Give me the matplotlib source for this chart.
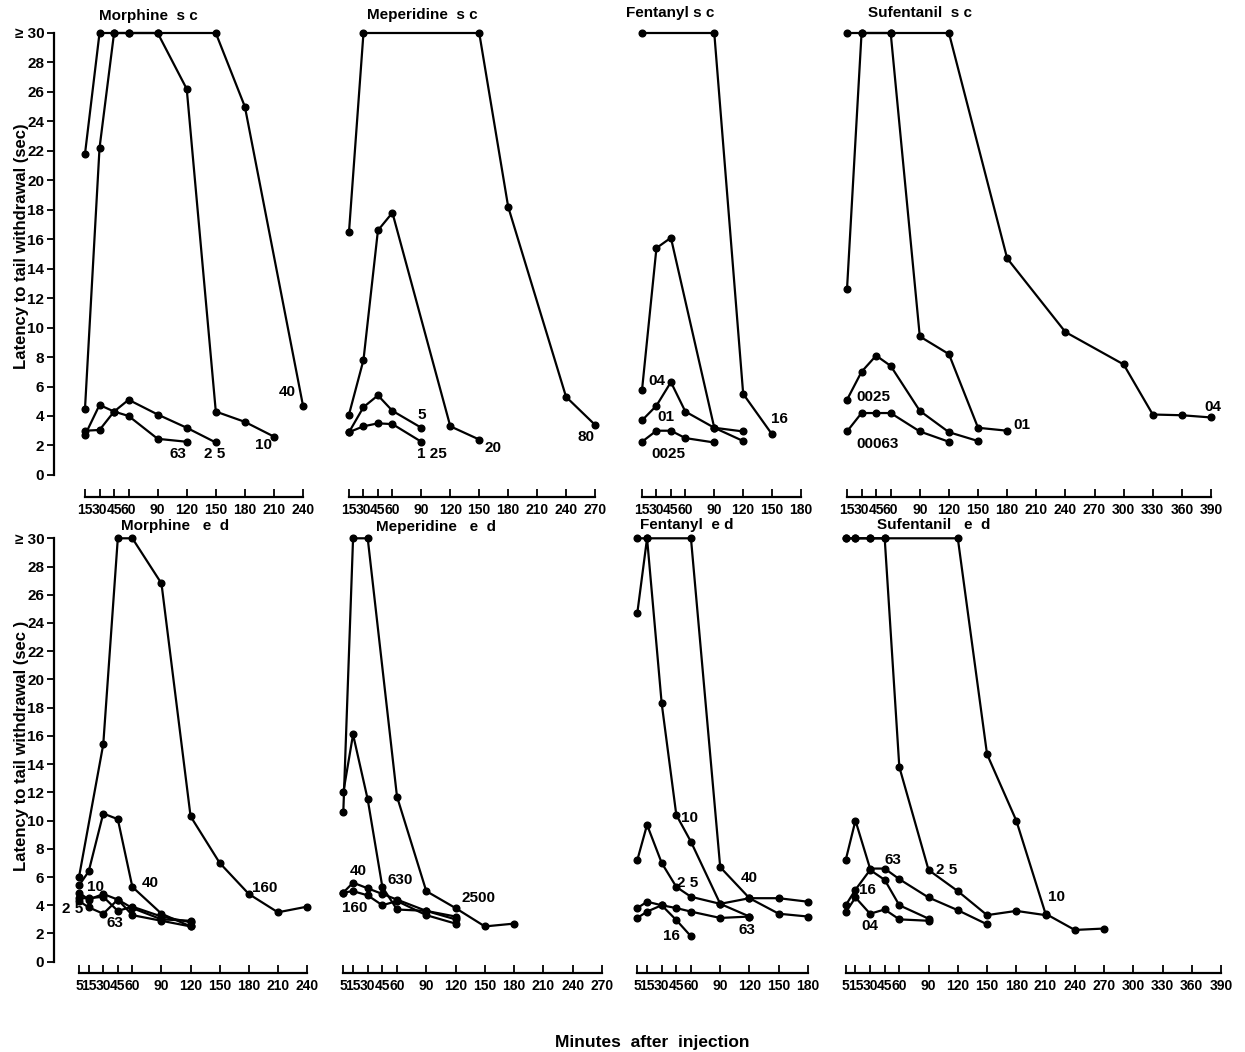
import matplotlib
matplotlib.use("Agg")
import matplotlib.pyplot as plt

plt.rcParams['font.family'] = ['Liberation Sans', 'DejaVu Sans']

# ---------------- data (minutes, latency in sec; 30 = cut-off) ----------------
# Morphine s.c.
ms40_t = [15, 30, 45, 60, 90, 150, 180, 240]
ms40_y = [21.8, 30, 30, 30, 30, 30, 25.0, 4.7]
ms10_t = [15, 30, 45, 60, 90, 120, 150, 180, 210]
ms10_y = [4.5, 22.2, 30, 30, 30, 26.2, 4.3, 3.6, 2.6]
ms25_t = [15, 30, 45, 60, 90, 120, 150]
ms25_y = [3.0, 3.05, 4.3, 5.1, 4.1, 3.2, 2.2]
ms63_t = [15, 30, 45, 60, 90, 120]
ms63_y = [2.7, 4.75, 4.3, 4.0, 2.45, 2.25]

# Meperidine s.c.
mps80_t = [15, 30, 150, 180, 240, 270]
mps80_y = [16.5, 30, 30, 18.2, 5.3, 3.4]
mps20_t = [15, 30, 45, 60, 120, 150]
mps20_y = [4.1, 7.8, 16.6, 17.8, 3.3, 2.4]
mps5_t = [15, 30, 45, 60, 90]
mps5_y = [2.9, 4.6, 5.4, 4.35, 3.2]
mps125_t = [15, 30, 45, 60, 90]
mps125_y = [2.9, 3.3, 3.5, 3.45, 2.25]

# Fentanyl s.c.
fs16_t = [15, 90, 120, 150]
fs16_y = [30, 30, 5.5, 2.75]
fs04_t = [15, 30, 45, 90, 120]
fs04_y = [5.75, 15.4, 16.1, 3.2, 2.3]
fs01_t = [15, 30, 45, 60, 90, 120]
fs01_y = [3.7, 4.7, 6.3, 4.3, 3.2, 2.95]
fs0025_t = [15, 30, 45, 60, 90]
fs0025_y = [2.25, 3.0, 3.0, 2.5, 2.2]

# Sufentanil s.c.
ss04_t = [15, 30, 60, 120, 180, 240, 300, 330, 360, 390]
ss04_y = [30, 30, 30, 30, 14.7, 9.7, 7.5, 4.1, 4.05, 3.9]
ss01_t = [15, 30, 60, 90, 120, 150, 180]
ss01_y = [12.6, 30, 30, 9.4, 8.2, 3.2, 3.0]
ss0025_t = [15, 30, 45, 60, 90, 120, 150]
ss0025_y = [5.1, 7.0, 8.1, 7.4, 4.35, 2.9, 2.3]
ss00063_t = [15, 30, 45, 60, 90, 120]
ss00063_y = [2.95, 4.2, 4.2, 4.2, 2.95, 2.25]

# Morphine e.d.
me160_t = [5, 30, 45, 60, 90, 120, 150, 180, 210, 240]
me160_y = [6.0, 15.4, 30, 30, 26.8, 10.3, 7.0, 4.8, 3.5, 3.9]
me40_t = [5, 15, 30, 45, 60, 90, 120]
me40_y = [5.4, 6.4, 10.5, 10.1, 5.3, 3.4, 2.5]
me10_t = [5, 15, 30, 45, 60, 90, 120]
me10_y = [4.9, 4.4, 4.8, 4.4, 3.8, 3.0, 2.9]
me25_t = [5, 15, 30, 45, 60, 90, 120]
me25_y = [4.5, 4.5, 4.6, 3.6, 3.9, 3.2, 2.8]
me63_t = [5, 15, 30, 45, 60, 90, 120]
me63_y = [4.3, 3.85, 3.4, 4.4, 3.3, 2.9, 2.5]

# Meperidine e.d.
mpe2500_t = [5, 15, 30, 60, 90, 120, 150, 180]
mpe2500_y = [10.6, 30, 30, 11.7, 5.0, 3.8, 2.5, 2.7]
mpe630_t = [5, 15, 30, 45, 60, 90, 120]
mpe630_y = [12.0, 16.1, 11.5, 5.3, 3.7, 3.6, 3.2]
mpe40_t = [5, 15, 30, 45, 60, 90, 120]
mpe40_y = [4.9, 5.6, 5.2, 4.8, 4.4, 3.6, 3.0]
mpe160_t = [5, 15, 30, 45, 60, 90, 120]
mpe160_y = [4.9, 5.0, 4.7, 4.0, 4.3, 3.3, 2.7]

# Fentanyl e.d.
fe40_t = [5, 15, 60, 90, 120, 150, 180]
fe40_y = [30, 30, 30, 6.7, 4.5, 3.4, 3.2]
fe10_t = [5, 15, 30, 45, 60, 90, 120]
fe10_y = [24.7, 30, 18.3, 10.4, 8.5, 4.1, 3.2]
fe25_t = [5, 15, 30, 45, 60, 90, 120, 150, 180]
fe25_y = [7.2, 9.7, 7.0, 5.3, 4.6, 4.1, 4.5, 4.5, 4.25]
fe63_t = [5, 15, 30, 45, 60, 90, 120]
fe63_y = [3.8, 4.25, 4.0, 3.8, 3.55, 3.1, 3.2]
fe16_t = [5, 15, 30, 45, 60]
fe16_y = [3.1, 3.55, 4.0, 2.95, 1.8]

# Sufentanil e.d.
se10_t = [5, 15, 30, 45, 120, 150, 180, 210, 240, 270]
se10_y = [30, 30, 30, 30, 30, 14.7, 10.0, 3.4, 2.25, 2.35]
se25_t = [5, 15, 30, 45, 60, 90, 120, 150, 180, 210]
se25_y = [30, 30, 30, 30, 13.8, 6.5, 5.0, 3.3, 3.6, 3.3]
se63_t = [5, 15, 30, 45, 60, 90, 120, 150]
se63_y = [7.2, 10.0, 6.6, 6.6, 5.85, 4.55, 3.65, 2.65]
se16_t = [5, 15, 30, 45, 60, 90]
se16_y = [4.0, 5.1, 6.5, 5.8, 4.0, 3.05]
se04_t = [5, 15, 30, 45, 60, 90]
se04_y = [3.5, 4.55, 3.4, 3.7, 3.0, 2.9]

# tick labels
ticks_ms = [15, 30, 45, 60, 90, 120, 150, 180, 210, 240]
ticks_mps = [15, 30, 45, 60, 90, 120, 150, 180, 210, 240, 270]
ticks_fs = [15, 30, 45, 60, 90, 120, 150, 180]
ticks_ss = [15, 30, 45, 60, 90, 120, 150, 180, 210, 240, 270, 300, 330, 360, 390]
ticks_me = [5, 15, 30, 45, 60, 90, 120, 150, 180, 210, 240]
ticks_mpe = [5, 15, 30, 45, 60, 90, 120, 150, 180, 210, 240, 270]
ticks_fe = [5, 15, 30, 45, 60, 90, 120, 150, 180]
ticks_se = [5, 15, 30, 45, 60, 90, 120, 150, 180, 210, 240, 270, 300, 330, 360, 390]
yticks = [0, 2, 4, 6, 8, 10, 12, 14, 16, 18, 20, 22, 24, 26, 28, 30]
ytick_labels = [str(v) for v in yticks[:-1]] + ['\u2265 30']

# ---------------- layout ----------------
W, H = 1245, 1052
fig = plt.figure(figsize=(W / 100, H / 100), dpi=100)

FONT = dict(fontweight='bold')


def make_axes(tick0_px, tick1_px, ticks, top_px, bot_px, ylo, spine_px=None):
    t0, t1 = ticks[0], ticks[-1]
    scale = (tick1_px - tick0_px) / (t1 - t0)
    left_px = spine_px if spine_px is not None else tick0_px
    xlo = t0 - (tick0_px - left_px) / scale
    ax = fig.add_axes([left_px / W, 1 - bot_px / H, (tick1_px - left_px) / W,
                       (bot_px - top_px) / H])
    ax.set_xlim(xlo, t1)
    ax.set_ylim(ylo, 30)
    ax.patch.set_alpha(0)
    for s in ('top', 'right'):
        ax.spines[s].set_visible(False)
    ax.spines['bottom'].set_bounds(t0, t1)
    ax.spines['bottom'].set_linewidth(1.6)
    ax.set_xticks(ticks)
    ax.set_xticklabels([str(t) for t in ticks], fontsize=10, fontweight='bold')
    ax.tick_params(axis='x', direction='in', length=6, width=1.3, pad=4)
    if spine_px is not None:
        ax.spines['left'].set_bounds(0, 30)
        ax.spines['left'].set_linewidth(1.6)
        ax.set_yticks(yticks)
        ax.set_yticklabels(ytick_labels, fontsize=11, fontweight='bold')
        ax.tick_params(axis='y', direction='out', length=5, width=1.3, pad=2)
    else:
        ax.spines['left'].set_visible(False)
        ax.set_yticks([])
    return ax


def draw(ax, series, labels):
    for t, y in series:
        ax.plot(t, y, color='black', lw=1.6, marker='o', ms=4.8, clip_on=False)
    for txt, x, y in labels:
        ax.text(x, y, txt, ha='center', va='center', fontsize=11, clip_on=False, **FONT)


TOP_T, TOP_B, TOP_YLO = 33, 497, -1.5
BOT_T, BOT_B, BOT_YLO = 538.3, 973, -0.8

# Top row (s.c.)
ax1 = make_axes(85, 303, ticks_ms, TOP_T, TOP_B, TOP_YLO, spine_px=54)
draw(ax1, [(ms40_t, ms40_y), (ms10_t, ms10_y), (ms25_t, ms25_y), (ms63_t, ms63_y)],
     [('63', 111, 1.4), ('2 5', 149, 1.4), ('10', 199, 2.0), ('40', 224, 5.6)])

ax2 = make_axes(349, 595, ticks_mps, TOP_T, TOP_B, TOP_YLO)
draw(ax2, [(mps80_t, mps80_y), (mps20_t, mps20_y), (mps5_t, mps5_y), (mps125_t, mps125_y)],
     [('5', 90, 4.1), ('1 25', 101, 1.4), ('20', 164, 1.8), ('80', 261, 2.6)])

ax3 = make_axes(642, 801, ticks_fs, TOP_T, TOP_B, TOP_YLO)
draw(ax3, [(fs16_t, fs16_y), (fs04_t, fs04_y), (fs01_t, fs01_y), (fs0025_t, fs0025_y)],
     [('04', 30, 6.35), ('01', 40, 3.9), ('0025', 42, 1.4), ('16', 158, 3.8)])

ax4 = make_axes(847, 1211, ticks_ss, TOP_T, TOP_B, TOP_YLO)
draw(ax4, [(ss04_t, ss04_y), (ss01_t, ss01_y), (ss0025_t, ss0025_y), (ss00063_t, ss00063_y)],
     [('0025', 42, 5.3), ('00063', 46, 2.1), ('01', 195, 3.4), ('04', 392, 4.6)])

# Bottom row (e.d.)
ax5 = make_axes(79, 307, ticks_me, BOT_T, BOT_B, BOT_YLO, spine_px=54)
draw(ax5, [(me160_t, me160_y), (me40_t, me40_y), (me10_t, me10_y), (me25_t, me25_y),
           (me63_t, me63_y)],
     [('10', 22, 5.3), ('2 5', -2, 3.7), ('63', 42, 2.75), ('40', 78, 5.6), ('160', 196, 5.2)])

ax6 = make_axes(343.3, 602, ticks_mpe, BOT_T, BOT_B, BOT_YLO)
draw(ax6, [(mpe2500_t, mpe2500_y), (mpe630_t, mpe630_y), (mpe40_t, mpe40_y),
           (mpe160_t, mpe160_y)],
     [('40', 20, 6.4), ('160', 17, 3.8), ('630', 63, 5.8), ('2500', 144, 4.5)])

ax7 = make_axes(637.3, 808, ticks_fe, BOT_T, BOT_B, BOT_YLO)
draw(ax7, [(fe40_t, fe40_y), (fe10_t, fe10_y), (fe25_t, fe25_y), (fe63_t, fe63_y),
           (fe16_t, fe16_y)],
     [('10', 59, 10.2), ('2 5', 57, 5.6), ('40', 120, 5.9), ('63', 117, 2.25), ('16', 40, 1.8)])

ax8 = make_axes(845.7, 1221, ticks_se, BOT_T, BOT_B, BOT_YLO)
draw(ax8, [(se10_t, se10_y), (se25_t, se25_y), (se63_t, se63_y), (se16_t, se16_y),
           (se04_t, se04_y)],
     [('63', 53, 7.2), ('2 5', 109, 6.5), ('16', 27, 5.1), ('04', 30, 2.5), ('10', 221, 4.6)])

# Titles
titles = [('Morphine  s c', 148, 16), ('Meperidine  s c', 422, 15), ('Fentanyl s c', 670, 13),
          ('Sufentanil  s c', 920, 13), ('Morphine   e  d', 175, 526), ('Meperidine   e  d', 436, 527),
          ('Fentanyl  e d', 687, 525), ('Sufentanil   e  d', 934, 525)]
for txt, x, y in titles:
    fig.text(x / W, 1 - y / H, txt, ha='center', va='center', fontsize=11, **FONT)

fig.text(22 / W, 1 - 246 / H, 'Latency to tail withdrawal (sec)', rotation=90,
         ha='center', va='center', fontsize=12, **FONT)
fig.text(22 / W, 1 - 746 / H, 'Latency to tail withdrawal (sec )', rotation=90,
         ha='center', va='center', fontsize=12, **FONT)
fig.text(652 / W, 1 - 1042 / H, 'Minutes  after  injection', ha='center', va='center',
         fontsize=12.5, **FONT)

fig.savefig('out.png', dpi=100, facecolor='white')
